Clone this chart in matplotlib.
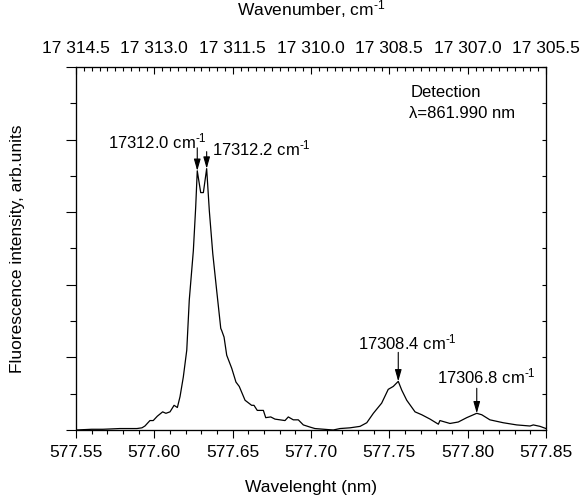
import numpy as np
import matplotlib
matplotlib.use("Agg")
import matplotlib.pyplot as plt
from matplotlib.ticker import MultipleLocator, FuncFormatter, NullFormatter

plt.rcParams['font.family'] = ['Liberation Sans', 'DejaVu Sans']
plt.rcParams['mathtext.fontset'] = 'custom'
plt.rcParams['mathtext.rm'] = 'Liberation Sans'
plt.rcParams['mathtext.it'] = 'Liberation Sans:italic'

# spectrum
wavelength = [577.5500, 577.5600, 577.5672, 577.5780, 577.5889, 577.5921, 577.5940,
              577.5972, 577.5993, 577.6019, 577.6053, 577.6074, 577.6100, 577.6126,
              577.6147, 577.6164, 577.6185, 577.6207, 577.6223, 577.6249, 577.6264,
              577.6274, 577.6296, 577.6313, 577.6334, 577.6351, 577.6373, 577.6398,
              577.6424, 577.6430, 577.6445, 577.6462, 577.6494, 577.6521, 577.6542,
              577.6579, 577.6621, 577.6636, 577.6657, 577.6696, 577.6711, 577.6743,
              577.6770, 577.6834, 577.6855, 577.6887, 577.6919, 577.6951, 577.6994,
              577.7025, 577.7142, 577.7185, 577.7249, 577.7313, 577.7356, 577.7398,
              577.7451, 577.7493, 577.7525, 577.7557, 577.7579, 577.7611, 577.7664,
              577.7707, 577.7760, 577.7813, 577.7823, 577.7887, 577.7940, 577.7994,
              577.8058, 577.8090, 577.8142, 577.8227, 577.8313, 577.8398, 577.8419,
              577.8462, 577.8500]
intensity = [0.00, 0.01, 0.01, 0.02, 0.02, 0.03, 0.055,
             0.13, 0.13, 0.19, 0.25, 0.23, 0.25, 0.34,
             0.31, 0.46, 0.73, 1.10, 1.79, 2.47, 3.07,
             3.57, 3.27, 3.27, 3.60, 3.02, 2.43, 1.92,
             1.40, 1.37, 1.28, 1.03, 0.85, 0.66, 0.60,
             0.41, 0.34, 0.34, 0.27, 0.27, 0.17, 0.18,
             0.15, 0.13, 0.18, 0.14, 0.14, 0.07, 0.04,
             0.02, 0.00, 0.02, 0.03, 0.05, 0.10, 0.23,
             0.37, 0.56, 0.60, 0.67, 0.55, 0.41, 0.25,
             0.21, 0.15, 0.08, 0.13, 0.09, 0.11, 0.17,
             0.23, 0.21, 0.14, 0.10, 0.07, 0.055, 0.07,
             0.05, 0.02]

peak_wl = [577.6274, 577.6334, 577.7557, 577.8058]
peak_labels = ['17312.0 cm$^{\\text{-}1}$', '17312.2 cm$^{\\text{-}1}$',
               '17308.4 cm$^{\\text{-}1}$', '17306.8 cm$^{\\text{-}1}$']

# top axis range (wavenumber, cm-1)
wn_left, wn_right = 17314.5, 17305.5

fig = plt.figure(figsize=(5.81, 5.04), dpi=100)
ax = fig.add_axes([76/581, 1 - 430/504, 470/581, 363/504])
ax.plot(wavelength, intensity, color='black', lw=0.9)
ax.set_xlim(577.55, 577.85)
ax.set_ylim(0, 5)

ax.xaxis.set_major_locator(MultipleLocator(0.05))
ax.xaxis.set_minor_locator(MultipleLocator(0.01))
ax.xaxis.set_major_formatter(FuncFormatter(lambda v, p: '%.2f' % v))
ax.yaxis.set_major_locator(MultipleLocator(1))
ax.yaxis.set_minor_locator(MultipleLocator(0.5))
ax.yaxis.set_major_formatter(NullFormatter())
ax.tick_params(axis='x', which='major', direction='out', length=6, width=0.8, labelsize=12.5, pad=5)
ax.tick_params(axis='x', which='minor', direction='out', length=3, width=0.8)
ax.tick_params(axis='y', which='major', direction='out', length=7, width=0.8)
ax.tick_params(axis='y', which='minor', direction='out', length=4, width=0.8)
for s in ax.spines.values():
    s.set_linewidth(0.8)

ax.set_xlabel('Wavelenght (nm)', fontsize=12.5, labelpad=14)
ax.set_ylabel('Fluorescence intensity, arb.units', fontsize=12.5, labelpad=26)

# right side ticks point inward
ax2 = ax.twinx()
ax2.set_ylim(0, 5)
ax2.yaxis.set_major_locator(MultipleLocator(0.5))
ax2.yaxis.set_major_formatter(NullFormatter())
ax2.tick_params(axis='y', direction='in', length=3, width=0.8)

# top wavenumber axis
top = ax.twiny()
top.set_xlim(wn_left, wn_right)
top.xaxis.set_major_locator(MultipleLocator(1.5))
top.xaxis.set_minor_locator(MultipleLocator(0.15))
top.xaxis.set_major_formatter(FuncFormatter(lambda v, p: '{:,.1f}'.format(v).replace(',', ' ')))
top.tick_params(which='major', direction='in', length=5, width=0.8, labelsize=12.5, pad=8)
top.tick_params(which='minor', direction='in', length=3, width=0.8)
top.set_xlabel('Wavenumber, cm$^{\\text{-}1}$', fontsize=12.5, labelpad=18)

# peak arrows and labels
text_off = [(10, 29, 'right'), (5, 20, 'left'), (-40, 39, 'left'), (-40, 37, 'left')]
arrow_len = [23, 17, 29, 25]
for wl, lab, (dx, dy, ha), al in zip(peak_wl, peak_labels, text_off, arrow_len):
    yp = np.interp(wl, wavelength, intensity)
    ax.annotate('', xy=(wl, yp), xytext=(0, al * 0.72), textcoords='offset points',
                arrowprops=dict(arrowstyle='-|>,head_length=0.7,head_width=0.2',
                                color='black', lw=0.8, shrinkA=0, shrinkB=0))
    ax.annotate(lab, xy=(wl, yp), xytext=(dx * 0.72, dy * 0.72), textcoords='offset points',
                ha=ha, va='center', fontsize=12)

ax.text(0.711, 0.931, 'Detection', transform=ax.transAxes, fontsize=12, va='center')
ax.text(0.709, 0.873, 'λ=861.990 nm', transform=ax.transAxes, fontsize=12, va='center')

fig.savefig('out.png', dpi=100)
